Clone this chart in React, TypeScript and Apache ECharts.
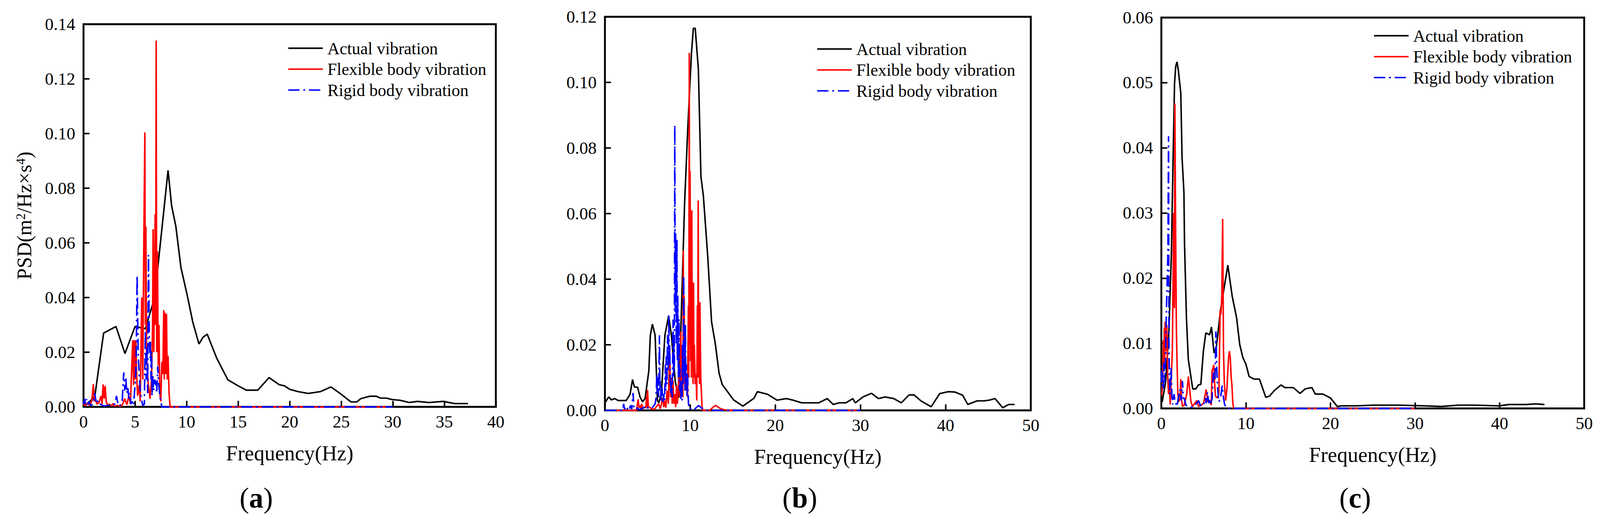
import { useEffect, useRef } from 'react';
import * as echarts from 'echarts';

const FONT = '"Liberation Serif", "Times New Roman", serif';
const names = ['Actual vibration', 'Flexible body vibration', 'Rigid body vibration'];
const colors = ['#000000', '#ff0000', '#0000ff'];

// (a) PSD data, [Hz, m2/Hz*s4]
const actualA = [
    [0, 0.0005], [0.5, 0.0015], [1.1, 0.004], [1.95, 0.027], [3.15, 0.0294], [4.02, 0.0195], [5.0, 0.0294], [6.0, 0.0286],
    [6.9, 0.04], [8.2, 0.0865], [8.55, 0.0735], [8.96, 0.066], [9.45, 0.051], [10.05, 0.041], [10.6, 0.031], [11.2, 0.023],
    [11.6, 0.0255], [12.0, 0.0266], [12.9, 0.018], [14.0, 0.0099], [15.0, 0.0077], [15.8, 0.0061], [16.9, 0.0061], [18.0, 0.0107],
    [19.0, 0.0081], [19.5, 0.0077], [20.0, 0.0064], [20.8, 0.0056], [21.8, 0.0049], [23.0, 0.0056], [24.0, 0.0073], [25.0, 0.0046],
    [25.95, 0.0018], [26.5, 0.0018], [26.9, 0.003], [27.8, 0.0039], [28.4, 0.0039], [28.8, 0.0032], [29.4, 0.0032], [29.9, 0.0027],
    [30.7, 0.0024], [31.6, 0.0016], [32.4, 0.002], [33.5, 0.0016], [34.9, 0.002], [36.0, 0.0012], [37.3, 0.0012]
];
const flexibleA = [
    [0, 0.001], [0.2, 0.0005], [0.4, 0.0015], [0.6, 0.0005], [0.8, 0.002], [0.95, 0.0083], [1.05, 0.002], [1.15, 0.003], [1.3, 0.001],
    [1.5, 0.0015], [1.7, 0.004], [1.8, 0.001], [1.9, 0.0082], [2.0, 0.003], [2.1, 0.0077], [2.2, 0.002], [2.35, 0.0005], [2.5, 0.001],
    [2.7, 0.0003], [2.85, 0.0012], [3.0, 0.0003], [3.3, 0.0005], [3.6, 0.0002], [3.8, 0.001], [4.0, 0.003], [4.2, 0.0008], [4.4, 0.004],
    [4.55, 0.001], [4.7, 0.017], [4.78, 0.0244], [4.85, 0.008], [4.92, 0.0244], [5.0, 0.01], [5.08, 0.0244], [5.15, 0.012], [5.25, 0.004],
    [5.4, 0.008], [5.5, 0.002], [5.65, 0.04], [5.75, 0.01], [5.85, 0.061], [5.95, 0.1004], [6.0, 0.03], [6.05, 0.066], [6.12, 0.02],
    [6.2, 0.012], [6.3, 0.008], [6.45, 0.003], [6.6, 0.01], [6.7, 0.03], [6.75, 0.065], [6.82, 0.02], [6.88, 0.0415], [6.95, 0.0705],
    [7.0, 0.03], [7.05, 0.134], [7.1, 0.02], [7.17, 0.057], [7.25, 0.015], [7.32, 0.03], [7.4, 0.005], [7.5, 0.002], [7.6, 0.0165],
    [7.7, 0.012], [7.78, 0.0354], [7.84, 0.01], [7.9, 0.0345], [7.97, 0.012], [8.05, 0.034], [8.12, 0.01], [8.2, 0.0187], [8.3, 0.005],
    [8.4, 0], [30, 0]
];
const rigidA = [
    [0, 0.001], [0.1, 0.003], [0.2, 0.001], [0.3, 0.0028], [0.4, 0.0008], [0.5, 0.002], [0.7, 0.0005], [0.9, 0.001], [1.1, 0.005],
    [1.2, 0.002], [1.3, 0.003], [1.45, 0.0008], [1.6, 0.001], [2.0, 0.0003], [2.4, 0.0006], [2.8, 0.0003], [3.05, 0.0012], [3.2, 0.004],
    [3.35, 0.0008], [3.5, 0.0003], [3.75, 0.002], [3.9, 0.0126], [4.0, 0.006], [4.1, 0.011], [4.2, 0.005], [4.3, 0.007], [4.4, 0.003],
    [4.5, 0.005], [4.6, 0.001], [4.7, 0.002], [4.85, 0.0005], [5.0, 0.008], [5.1, 0.015], [5.2, 0.048], [5.3, 0.02], [5.4, 0.012],
    [5.5, 0.006], [5.6, 0.003], [5.75, 0.0005], [5.9, 0.001], [6.0, 0.028], [6.08, 0.01], [6.15, 0.022], [6.22, 0.005], [6.3, 0.0556],
    [6.38, 0.025], [6.45, 0.018], [6.5, 0.024], [6.55, 0.01], [6.6, 0.02], [6.65, 0.004], [6.7, 0.012], [6.8, 0.006], [6.9, 0.01],
    [7.0, 0.009], [7.1, 0.005], [7.2, 0.0148], [7.3, 0.008], [7.4, 0.004], [7.5, 0.002], [7.6, 0], [30, 0]
];

// (b)
const actualB = [
    [0, 0.0023], [0.44, 0.0041], [0.74, 0.0032], [1.18, 0.0036], [1.55, 0.003], [2.5, 0.003], [2.95, 0.0049], [3.24, 0.0094],
    [3.46, 0.0071], [3.83, 0.0071], [4.12, 0.0041], [4.42, 0.0026], [4.71, 0.0036], [5.15, 0.012], [5.33, 0.0229], [5.57, 0.0263],
    [5.89, 0.0229], [6.16, 0.003], [6.33, 0.0023], [6.63, 0.0053], [7.04, 0.0229], [7.48, 0.0289], [7.8, 0.0229], [8.25, 0.009],
    [8.62, 0.0038], [8.84, 0.018], [9.35, 0.063], [9.72, 0.0856], [10.16, 0.109], [10.38, 0.1165], [10.6, 0.1165], [10.97, 0.104],
    [11.27, 0.0713], [11.56, 0.0653], [12.08, 0.0465], [12.52, 0.027], [12.96, 0.0203], [13.4, 0.0113], [13.77, 0.0079], [14.73, 0.0045],
    [15.1, 0.0032], [16.2, 0.0013], [17.5, 0.0037], [17.9, 0.0057], [19.1, 0.0049], [20.2, 0.0031], [21.3, 0.0036], [22.1, 0.0031],
    [23.1, 0.0023], [25.1, 0.0023], [26.1, 0.0036], [26.8, 0.0018], [27.5, 0.0023], [28.3, 0.0023], [29.1, 0.0036], [29.4, 0.0023],
    [30.3, 0.0041], [31.3, 0.0052], [32.1, 0.0036], [32.9, 0.0041], [33.9, 0.0036], [34.8, 0.0023], [35.7, 0.0047], [36.3, 0.0047],
    [37.1, 0.0029], [38.3, 0.0011], [39.3, 0.0051], [40.3, 0.0057], [41.1, 0.0056], [42.0, 0.0046], [42.6, 0.0018], [43.7, 0.0029],
    [44.5, 0.0029], [45.1, 0.0031], [45.8, 0.0036], [46.7, 0.0008], [47.4, 0.0018], [48.1, 0.0018]
];
const flexibleB = [
    [0, 0], [3.7, 0], [3.9, 0.0034], [4.0, 0.0008], [4.1, 0.0015], [4.2, 0.0005], [4.3, 0.002], [4.45, 0.0005], [4.6, 0.001],
    [4.8, 0.0008], [4.9, 0.0045], [4.95, 0.001], [5.0, 0.0062], [5.1, 0.0008], [5.2, 0.001], [5.5, 0.0005], [5.8, 0.0003], [6.0, 0.001],
    [6.3, 0.002], [6.5, 0.0005], [6.8, 0.004], [6.9, 0.001], [7.0, 0.003], [7.15, 0.0008], [7.3, 0.006], [7.45, 0.002], [7.6, 0.0195],
    [7.7, 0.004], [7.8, 0.01], [7.9, 0.002], [8.0, 0.009], [8.1, 0.002], [8.2, 0.005], [8.3, 0.001], [8.4, 0.0075], [8.5, 0.002],
    [8.6, 0.006], [8.7, 0.014], [8.8, 0.004], [8.9, 0.024], [9.0, 0.006], [9.1, 0.0176], [9.15, 0.004], [9.2, 0.0488], [9.25, 0.01],
    [9.3, 0.035], [9.35, 0.008], [9.4, 0.018], [9.5, 0.006], [9.6, 0.011], [9.7, 0.004], [9.8, 0.032], [9.85, 0.01], [9.9, 0.109],
    [9.95, 0.02], [10.0, 0.073], [10.05, 0.015], [10.1, 0.037], [10.15, 0.01], [10.2, 0.061], [10.25, 0.012], [10.3, 0.028],
    [10.35, 0.008], [10.4, 0.039], [10.45, 0.01], [10.5, 0.02], [10.6, 0.008], [10.7, 0.011], [10.78, 0.003], [10.85, 0.032],
    [10.9, 0.01], [10.95, 0.064], [11.0, 0.01], [11.05, 0.033], [11.1, 0.008], [11.15, 0.033], [11.25, 0.01], [11.4, 0.001],
    [11.5, 0], [12.3, 0], [12.5, 0.0005], [12.8, 0.0012], [13.0, 0.0015], [13.3, 0.001], [13.6, 0.0005], [14.0, 0.0002], [14.5, 0], [30, 0]
];
const rigidB = [
    [0, 0], [2.1, 0], [2.2, 0.002], [2.3, 0.0003], [2.4, 0.001], [2.55, 0.0002], [2.7, 0.0008], [2.85, 0.0002], [3.0, 0.0015],
    [3.15, 0.0004], [3.3, 0.0053], [3.4, 0.001], [3.6, 0.0002], [3.8, 0.0008], [4.0, 0.0002], [4.3, 0.0005], [4.6, 0.001], [4.8, 0.0002],
    [5.0, 0.0008], [5.3, 0.0005], [5.6, 0.001], [5.9, 0.002], [6.0, 0.004], [6.1, 0.011], [6.15, 0.005], [6.2, 0.01], [6.3, 0.004],
    [6.4, 0.0229], [6.45, 0.006], [6.5, 0.009], [6.6, 0.003], [6.7, 0.007], [6.8, 0.002], [6.9, 0.005], [7.0, 0.003], [7.1, 0.014],
    [7.15, 0.006], [7.2, 0.0165], [7.28, 0.008], [7.35, 0.023], [7.42, 0.012], [7.5, 0.029], [7.55, 0.015], [7.6, 0.02], [7.7, 0.005],
    [7.8, 0.009], [7.9, 0.004], [8.0, 0.0277], [8.05, 0.01], [8.1, 0.02], [8.15, 0.012], [8.2, 0.087], [8.25, 0.03], [8.3, 0.054],
    [8.38, 0.02], [8.45, 0.052], [8.5, 0.015], [8.55, 0.035], [8.62, 0.01], [8.7, 0.0278], [8.75, 0.006], [8.8, 0.0128], [8.9, 0.003],
    [9.0, 0.009], [9.05, 0.003], [9.1, 0.02], [9.18, 0.008], [9.25, 0.041], [9.3, 0.01], [9.35, 0.023], [9.4, 0.006], [9.45, 0.026],
    [9.5, 0.008], [9.55, 0.014], [9.62, 0.004], [9.7, 0.011], [9.8, 0.0023], [9.9, 0.0003], [10.2, 0.0008], [10.5, 0.0003],
    [11.0, 0.0015], [11.3, 0.0008], [11.7, 0.0003], [12.0, 0], [30, 0]
];

// (c)
const actualC = [
    [0.1, 0.001], [0.5, 0.004], [0.9, 0.012], [1.19, 0.024], [1.41, 0.0398], [1.56, 0.0499], [1.7, 0.0525], [1.85, 0.0532],
    [2.0, 0.052], [2.3, 0.0484], [2.45, 0.0385], [2.67, 0.0332], [2.74, 0.0253], [2.97, 0.0138], [3.19, 0.0075], [3.71, 0.003],
    [4.08, 0.003], [4.37, 0.0036], [4.67, 0.0037], [4.97, 0.0088], [5.26, 0.0116], [5.71, 0.0113], [5.93, 0.0125], [6.23, 0.0085],
    [6.52, 0.0096], [6.97, 0.0148], [7.41, 0.0184], [7.86, 0.022], [8.38, 0.0172], [8.9, 0.0139], [9.27, 0.0098], [9.64, 0.0078],
    [10.0, 0.0068], [10.38, 0.0049], [10.97, 0.0045], [11.6, 0.0045], [12.35, 0.0017], [12.8, 0.0019], [13.4, 0.0028], [14.15, 0.0036],
    [14.6, 0.0032], [15.6, 0.0032], [16.4, 0.0023], [17.0, 0.003], [17.8, 0.0032], [18.2, 0.0022], [19.1, 0.0022], [20.0, 0.0016],
    [20.8, 0.0003], [21.3, 0.0004], [23.1, 0.0004], [25.1, 0.0005], [28.1, 0.0005], [31.1, 0.0004], [33.1, 0.0003], [35.1, 0.0005],
    [37.1, 0.0005], [39.9, 0.0004], [41.1, 0.0006], [43.1, 0.0006], [44.3, 0.0007], [45.3, 0.0006]
];
const flexibleC = [
    [0.05, 0.002], [0.15, 0.004], [0.25, 0.0105], [0.3, 0.006], [0.35, 0.0124], [0.4, 0.007], [0.45, 0.0133], [0.55, 0.0088],
    [0.65, 0.0128], [0.75, 0.0049], [0.85, 0.0022], [0.95, 0.0039], [1.05, 0.0006], [1.15, 0.0039], [1.3, 0.0088], [1.38, 0.0187],
    [1.45, 0.03], [1.55, 0.0154], [1.6, 0.0468], [1.7, 0.0253], [1.78, 0.0121], [1.85, 0.0075], [1.95, 0.0022], [2.05, 0.001],
    [2.2, 0.0016], [2.3, 0.0045], [2.4, 0.0012], [2.5, 0.0003], [2.7, 0.0005], [3.0, 0.0022], [3.2, 0.0049], [3.35, 0.0029],
    [3.5, 0.001], [3.7, 0.0003], [4.0, 0.0009], [4.2, 0.0012], [4.4, 0.0003], [4.7, 0.0005], [5.0, 0.0008], [5.3, 0.0029],
    [5.5, 0.001], [5.75, 0.0012], [5.9, 0.0005], [6.0, 0.0058], [6.1, 0.0062], [6.2, 0.0067], [6.3, 0.0039], [6.4, 0.0019],
    [6.6, 0.0016], [6.8, 0.0022], [6.95, 0.0151], [7.05, 0.0144], [7.15, 0.0174], [7.25, 0.0291], [7.35, 0.0088], [7.45, 0.0039],
    [7.6, 0.0012], [7.75, 0.0029], [7.85, 0.0055], [7.95, 0.0078], [8.05, 0.0088], [8.15, 0.0078], [8.25, 0.0049], [8.35, 0.0035],
    [8.45, 0.0009], [8.55, 0], [30, 0]
];
const rigidC = [
    [0, 0.004], [0.05, 0.0065], [0.1, 0.0035], [0.15, 0.0055], [0.25, 0.003], [0.3, 0.007], [0.4, 0.004], [0.5, 0.008],
    [0.6, 0.0154], [0.68, 0.0187], [0.78, 0.0243], [0.85, 0.0418], [0.9, 0.0088], [1.0, 0.0022], [1.15, 0.0062], [1.25, 0.002],
    [1.35, 0.0006], [1.5, 0.0022], [1.65, 0.0008], [1.75, 0.0007], [1.85, 0.0003], [2.0, 0.0015], [2.2, 0.0029], [2.35, 0.0012],
    [2.5, 0.0042], [2.6, 0.0015], [2.7, 0.0016], [2.9, 0.0005], [3.2, 0.0003], [3.6, 0.0002], [4.0, 0.0005], [4.4, 0.0012],
    [4.6, 0.0005], [4.8, 0.0003], [5.0, 0.0006], [5.2, 0.0016], [5.3, 0.0008], [5.45, 0.0025], [5.6, 0.0008], [5.7, 0.0015],
    [5.8, 0.0005], [6.0, 0.0015], [6.15, 0.0055], [6.25, 0.0049], [6.35, 0.0042], [6.45, 0.0118], [6.55, 0.0062], [6.65, 0.0032],
    [6.8, 0.001], [7.0, 0.0016], [7.2, 0.0035], [7.35, 0.0016], [7.5, 0.0005], [7.65, 0.0003], [7.8, 0], [30, 0]
];

const xMaxes = [40, 50, 50];
const xSteps = [5, 10, 10];
const yMaxes = [0.14, 0.12, 0.06];
const ySteps = [0.02, 0.02, 0.01];
const panelLabels = ['a', 'b', 'c'];

const App = () => {
    const chartRef = useRef<HTMLDivElement | null>(null);
    useEffect(() => {
        document.body.style.margin = '0';
        document.body.style.overflow = 'hidden';
        if (!chartRef.current) return;
        const W = chartRef.current.clientWidth || 4253;
        const H = chartRef.current.clientHeight || 1342;
        // layout measured on a 4253 x 1342 page, scaled to the real viewport
        const kx = W / 4253;
        const ky = H / 1342;
        const k = Math.min(kx, ky);
        const X = (v: number) => v * kx;
        const Y = (v: number) => v * ky;
        const F = (v: number) => v * k;
        const myChart = echarts.init(chartRef.current, undefined, { renderer: 'svg' });
        const grids = [
            { left: X(222), top: Y(62), width: X(1096), height: Y(980) },
            { left: X(1608), top: Y(43), width: X(1132), height: Y(1008) },
            { left: X(3087), top: Y(45), width: X(1124), height: Y(1001) }
        ];
        const legendPos = [
            { left: X(759), top: Y(97) },
            { left: X(2165), top: Y(99) },
            { left: X(3645), top: Y(65) }
        ];
        const labelX = [681, 2126, 3602];
        const panels = [
            [actualA, flexibleA, rigidA],
            [actualB, flexibleB, rigidB],
            [actualC, flexibleC, rigidC]
        ];
        const series: any[] = [];
        panels.forEach((p, gi) => {
            p.forEach((d, si) => {
                series.push({
                    name: names[si],
                    type: 'line',
                    xAxisIndex: gi,
                    yAxisIndex: gi,
                    data: d,
                    symbol: 'none',
                    showSymbol: false,
                    lineStyle: {
                        color: colors[si],
                        width: F(4),
                        type: si === 2 ? [F(30), F(10), F(5), F(10)] : 'solid'
                    },
                    itemStyle: { color: colors[si] }
                });
            });
        });
        const option = {
            animation: false,
            textStyle: { fontFamily: FONT },
            grid: grids.map(g => ({ ...g, show: true, borderColor: '#000', borderWidth: F(5), backgroundColor: 'transparent' })),
            xAxis: grids.map((_, i) => ({
                type: 'value',
                gridIndex: i,
                min: 0,
                max: xMaxes[i],
                interval: xSteps[i],
                name: 'Frequency(Hz)',
                nameLocation: 'middle',
                nameGap: Y(92),
                nameTextStyle: { fontFamily: FONT, fontSize: F(56), color: '#000' },
                axisLine: { show: false },
                axisTick: { show: true, inside: true, length: F(16), lineStyle: { color: '#000', width: F(4) } },
                axisLabel: { fontFamily: FONT, fontSize: F(46), color: '#000', margin: Y(16) },
                splitLine: { show: false }
            })),
            yAxis: grids.map((_, i) => ({
                type: 'value',
                gridIndex: i,
                min: 0,
                max: yMaxes[i],
                interval: ySteps[i],
                name: i === 0 ? '{n|PSD(m}{s|2}{n|/Hz×s}{s|4}{n|)}' : '',
                nameLocation: 'middle',
                nameRotate: 90,
                nameGap: X(130),
                nameTextStyle: {
                    fontFamily: FONT, fontSize: F(54), color: '#000',
                    rich: {
                        n: { fontFamily: FONT, fontSize: F(54), color: '#000' },
                        s: { fontFamily: FONT, fontSize: F(34), color: '#000', verticalAlign: 'top' }
                    }
                },
                axisLine: { show: false },
                axisTick: { show: true, inside: true, length: F(16), lineStyle: { color: '#000', width: F(4) } },
                axisLabel: {
                    fontFamily: FONT, fontSize: F(46), color: '#000', margin: X(22),
                    formatter: (v: number) => v.toFixed(2)
                },
                splitLine: { show: false }
            })),
            legend: legendPos.map(pos => ({
                ...pos,
                orient: 'vertical',
                data: names,
                itemWidth: F(92),
                itemHeight: F(14),
                itemGap: F(11),
                itemStyle: { opacity: 0 },
                lineStyle: { width: F(4) },
                textStyle: { fontFamily: FONT, fontSize: F(45), color: '#000', padding: [0, 0, 0, F(7)] }
            })),
            graphic: labelX.map((x, i) => ({
                type: 'text',
                x: X(x),
                y: Y(1275),
                style: {
                    text: `{p|(}{b|${panelLabels[i]}}{p|)}`,
                    textAlign: 'center',
                    textVerticalAlign: 'middle',
                    align: 'center',
                    verticalAlign: 'middle',
                    fill: '#000',
                    fontFamily: FONT,
                    fontSize: F(76),
                    rich: {
                        p: { fontFamily: FONT, fontSize: F(76), fill: '#000', color: '#000' },
                        b: { fontFamily: FONT, fontSize: F(76), fontWeight: 'bold', fill: '#000', color: '#000' }
                    }
                }
            })),
            series
        };
        myChart.setOption(option);
        return () => {
            myChart.dispose();
        };
    }, []);
    return <>
        <div ref={chartRef} style={{ width: '100vw', height: '100vh' }} />
    </>
};

export default App;
